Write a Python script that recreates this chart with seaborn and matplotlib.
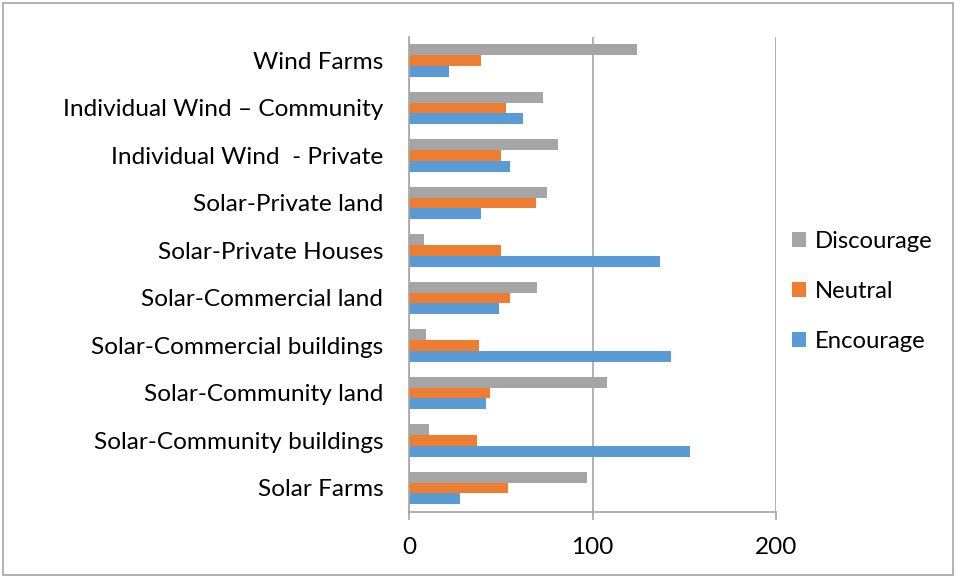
import numpy as np
import pandas as pd
import seaborn as sns
import matplotlib
matplotlib.use('Agg')
import matplotlib.pyplot as plt
from matplotlib.patches import Rectangle

# categories listed top to bottom, as drawn
categories = ['Wind Farms', 'Individual Wind \u2013 Community', 'Individual Wind  - Private',
              'Solar-Private land', 'Solar-Private Houses', 'Solar-Commercial land',
              'Solar-Commercial buildings', 'Solar-Community land',
              'Solar-Community buildings', 'Solar Farms']
encourage = [22, 62, 55, 39, 137, 49, 143, 42, 153, 28]
neutral = [39, 53, 50, 69, 50, 55, 38, 44, 37, 54]
discourage = [124, 73, 81, 75, 8, 70, 9, 108, 11, 97]
series = ['Discourage', 'Neutral', 'Encourage']
colors = ['#A5A5A5', '#ED7D31', '#5B9BD5']

df = pd.DataFrame({'category': categories * 3,
                   'series': ['Encourage'] * 10 + ['Neutral'] * 10 + ['Discourage'] * 10,
                   'value': encourage + neutral + discourage})

sns.set_style('white')
plt.rcParams['font.family'] = ['Lato', 'DejaVu Sans']
plt.rcParams['text.color'] = 'black'

fig = plt.figure(figsize=(9.55, 5.76), dpi=100)
ax = fig.add_axes([409 / 955, 1 - 511.7 / 576, 367 / 955, 475 / 576])

sns.barplot(data=df, y='category', x='value', hue='series', order=categories,
            hue_order=series, palette=colors, width=0.68, orient='h',
            saturation=1, linewidth=0, ax=ax, legend=True)

ax.set_xlim(0, 200)
ax.set_ylim(9.5, -0.5)
ax.set_xticks([0, 100, 200])
ax.xaxis.grid(True, color='#A6A6A6', linewidth=1.2)
ax.set_axisbelow(True)
ax.set_xlabel('')
ax.set_ylabel('')

for s in ['top', 'right']:
    ax.spines[s].set_visible(False)
for s in ['left', 'bottom']:
    ax.spines[s].set_color('#A6A6A6')
    ax.spines[s].set_linewidth(1.2)

ax.set_yticks(np.arange(-0.5, 10), minor=True)
ax.tick_params(axis='y', which='major', length=0, pad=18.5, labelsize=17.6, labelcolor='black')
ax.tick_params(axis='y', which='minor', length=6, width=1.2, color='#A6A6A6', direction='out')
ax.tick_params(axis='x', which='major', length=6, width=1.2, color='#A6A6A6',
               direction='out', pad=12, labelsize=17.5, labelcolor='black')
ax.tick_params(left=True, bottom=True)

ax.legend(loc='center left', bbox_to_anchor=(792 / 955, 0.494), bbox_transform=fig.transFigure,
          frameon=False, fontsize=17.2, handlelength=0.6, handleheight=0.6,
          handletextpad=0.35, labelspacing=1.2, borderaxespad=0, borderpad=0,
          labelcolor='black')

fig.patches.append(Rectangle((3 / 955, 1 / 576), 950 / 955, 572 / 576, transform=fig.transFigure,
                             fill=False, edgecolor='#A6A6A6', linewidth=1.2))

fig.savefig('out.png', dpi=100)
